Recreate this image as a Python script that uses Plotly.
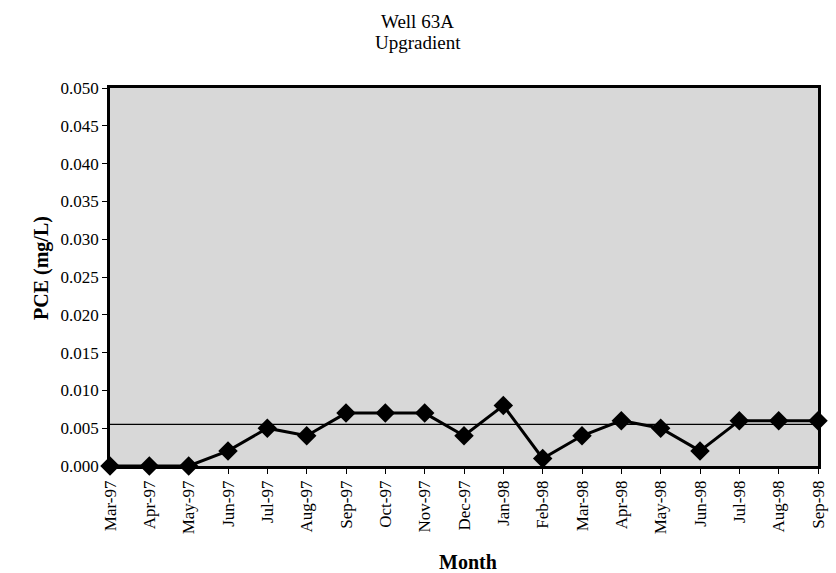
import plotly.graph_objects as go

months = ["Mar-97", "Apr-97", "May-97", "Jun-97", "Jul-97", "Aug-97", "Sep-97",
          "Oct-97", "Nov-97", "Dec-97", "Jan-98", "Feb-98", "Mar-98", "Apr-98",
          "May-98", "Jun-98", "Jul-98", "Aug-98", "Sep-98"]
pce = [0.000, 0.000, 0.000, 0.002, 0.005, 0.004, 0.007, 0.007, 0.007, 0.004,
       0.008, 0.001, 0.004, 0.006, 0.005, 0.002, 0.006, 0.006, 0.006]
reference_level = 0.0055
y_ticks = [0.000, 0.005, 0.010, 0.015, 0.020, 0.025, 0.030, 0.035, 0.040, 0.045, 0.050]

idx = list(range(len(months)))
font = "Liberation Serif, Times New Roman, serif"
L, R, T, B = 110, 8, 88, 107
W, H = 836, 573

fig = go.Figure()
fig.add_trace(go.Scatter(
    x=[idx[0], idx[-1]], y=[reference_level, reference_level], mode="lines",
    line=dict(color="black", width=1.2), hoverinfo="skip", showlegend=False))
fig.add_trace(go.Scatter(
    x=idx, y=pce, mode="lines+markers",
    line=dict(color="black", width=3),
    marker=dict(symbol="diamond", size=15, color="black"),
    showlegend=False, cliponaxis=False))

pw = W - L - R
ph = H - T - B


def px_to_paper(px, py):
    return (px - L) / pw, (H - B - py) / ph


annots = [
    ("Well 63A", 422, 22, 19, 0),
    ("Upgradient", 422, 43, 19, 0),
    ("<b>Month</b>", 473, 562, 20, 0),
    ("<b>PCE (mg/L)</b>", 40, 268, 20, -90),
]
annotations = []
for text, x, y, size, ang in annots:
    ax, ay = px_to_paper(x, y)
    annotations.append(dict(text=text, x=ax, y=ay, xref="paper", yref="paper",
                            xanchor="center", yanchor="middle", showarrow=False,
                            textangle=ang, font=dict(size=size)))

fig.update_layout(
    width=W, height=H,
    margin=dict(l=L, r=R, t=T, b=B),
    paper_bgcolor="white", plot_bgcolor="#d8d8d8",
    font=dict(family=font, size=17, color="black"),
    annotations=annotations,
)

fig.update_xaxes(
    range=[0, len(months) - 1], tickmode="array", tickvals=idx, ticktext=months,
    tickangle=-90, ticks="outside", ticklen=5, tickcolor="black", tickwidth=1,
    showgrid=False, zeroline=False, showline=True, linecolor="black", linewidth=2.5,
    mirror=True, tickfont=dict(size=17), ticklabeloverflow="allow")
fig.update_yaxes(
    range=[0, 0.050], tickmode="array", tickvals=y_ticks,
    ticktext=[f"{v:.3f}" for v in y_ticks],
    ticks="outside", ticklen=5, tickcolor="black", tickwidth=1,
    showgrid=False, zeroline=False, showline=True, linecolor="black", linewidth=2.5,
    mirror=True, tickfont=dict(size=17))

fig.write_html("out.html")
